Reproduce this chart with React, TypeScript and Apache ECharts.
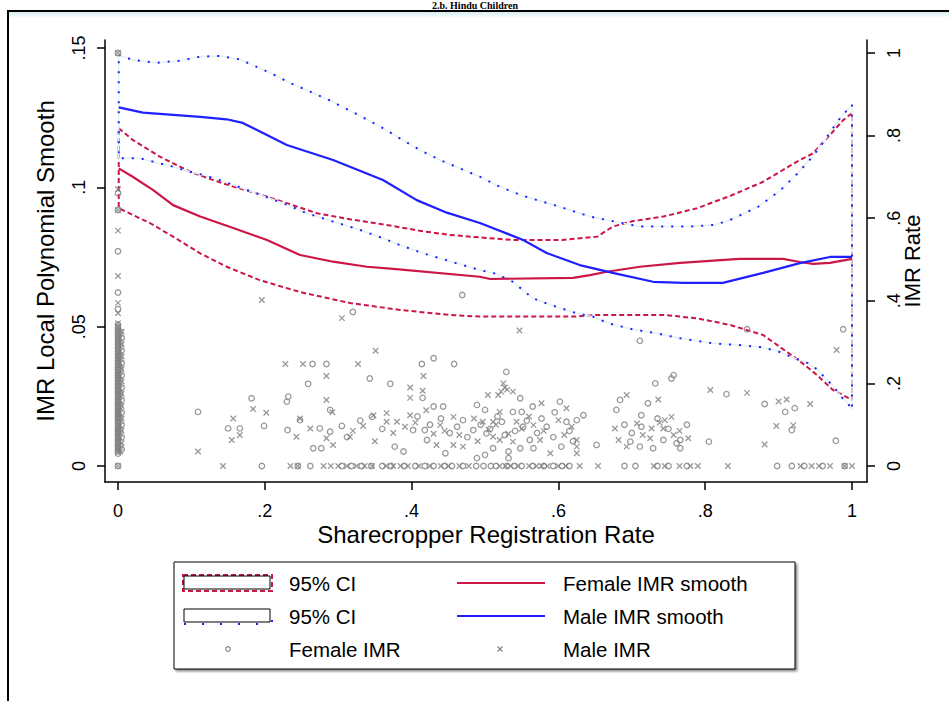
import React, { useEffect, useRef } from "react";
import * as echarts from "echarts";

// ---------- tick values ----------
const xTicks = [0, 0.2, 0.4, 0.6, 0.8, 1];
const leftTicks = [0, 0.05, 0.1, 0.15];
const rightTicks = [0, 0.2, 0.4, 0.6, 0.8, 1];

// ---------- local polynomial smooths (left axis) ----------
const femaleSmooth = [
  [0.001, 0.1068], [0.02, 0.1038], [0.048, 0.099], [0.075, 0.0936], [0.112, 0.0895],
  [0.157, 0.0854], [0.203, 0.0811], [0.248, 0.0757], [0.293, 0.0733], [0.339, 0.0715],
  [0.375, 0.0707], [0.493, 0.0679], [0.507, 0.0671], [0.62, 0.0675], [0.643, 0.0685],
  [0.666, 0.0697], [0.711, 0.0715], [0.766, 0.0729], [0.811, 0.0737], [0.847, 0.0743],
  [0.906, 0.0743], [0.929, 0.0732], [0.947, 0.0725], [0.97, 0.0729], [1.0, 0.0743],
];
const maleSmooth = [
  [0.001, 0.1287], [0.034, 0.1268], [0.112, 0.1253], [0.148, 0.1244], [0.17, 0.1231],
  [0.23, 0.1152], [0.293, 0.1098], [0.361, 0.1026], [0.407, 0.0954], [0.448, 0.0909],
  [0.493, 0.0872], [0.552, 0.0811], [0.584, 0.0764], [0.629, 0.0721], [0.674, 0.0693],
  [0.729, 0.0661], [0.77, 0.0657], [0.824, 0.0657], [0.879, 0.0693], [0.929, 0.0728],
  [0.97, 0.075], [1.0, 0.075],
];
const femaleUpper = [
  [0.001, 0.1212], [0.02, 0.117], [0.057, 0.111], [0.098, 0.1056], [0.143, 0.1014],
  [0.189, 0.0978], [0.23, 0.0943], [0.271, 0.0907], [0.316, 0.0885], [0.366, 0.0865],
  [0.411, 0.0844], [0.452, 0.0829], [0.493, 0.082], [0.538, 0.0811], [0.606, 0.0811],
  [0.653, 0.0823], [0.674, 0.0859], [0.702, 0.0879], [0.743, 0.0895], [0.789, 0.0925],
  [0.834, 0.0969], [0.879, 0.102], [0.925, 0.1092], [0.947, 0.1122], [0.97, 0.1188],
  [0.988, 0.1241], [1.0, 0.1266],
];
const femaleLower = [
  [0.001, 0.0925], [0.02, 0.0901], [0.044, 0.0871], [0.075, 0.0823], [0.112, 0.0763],
  [0.148, 0.0715], [0.193, 0.0667], [0.248, 0.0624], [0.316, 0.0585], [0.384, 0.056],
  [0.452, 0.0542], [0.493, 0.0536], [0.62, 0.0536], [0.653, 0.0542], [0.743, 0.0542],
  [0.789, 0.053], [0.834, 0.0506], [0.879, 0.047], [0.911, 0.041], [0.932, 0.037],
  [0.952, 0.0327], [0.974, 0.0273], [1.0, 0.0237],
];
const maleUpper = [
  [0.001, 0.1475], [0.02, 0.1457], [0.053, 0.1447], [0.084, 0.1454], [0.112, 0.1469],
  [0.139, 0.1471], [0.166, 0.1459], [0.207, 0.1411], [0.234, 0.1375], [0.262, 0.1343],
  [0.289, 0.1311], [0.316, 0.1275], [0.343, 0.1238], [0.361, 0.1212], [0.394, 0.116],
  [0.411, 0.1134], [0.441, 0.1095], [0.493, 0.1038], [0.52, 0.1002], [0.552, 0.0969],
  [0.602, 0.093], [0.643, 0.0895], [0.688, 0.0871], [0.711, 0.0859], [0.779, 0.0859],
  [0.811, 0.0865], [0.831, 0.0879], [0.872, 0.093], [0.902, 0.0988], [0.925, 0.1048],
  [0.947, 0.1112], [0.96, 0.1159], [0.984, 0.1249], [1.0, 0.1296],
];
const maleLower = [
  [0.001, 0.1104], [0.03, 0.1104], [0.053, 0.1088], [0.075, 0.1074], [0.098, 0.1056],
  [0.121, 0.1041], [0.148, 0.1017], [0.189, 0.0978], [0.225, 0.0943], [0.257, 0.0907],
  [0.293, 0.0877], [0.33, 0.0847], [0.361, 0.0817], [0.384, 0.0793], [0.416, 0.0763],
  [0.439, 0.0745], [0.462, 0.0727], [0.493, 0.0703], [0.516, 0.0689], [0.538, 0.0661],
  [0.565, 0.0602], [0.589, 0.0578], [0.625, 0.0548], [0.647, 0.0536], [0.668, 0.0512],
  [0.702, 0.049], [0.734, 0.0476], [0.766, 0.0458], [0.811, 0.044], [0.845, 0.0434],
  [0.875, 0.0427], [0.898, 0.0413], [0.911, 0.0398], [0.94, 0.0369], [0.952, 0.0348],
  [0.967, 0.0306], [0.974, 0.0288], [0.986, 0.0247], [0.993, 0.0231], [1.0, 0.0201],
];

// ---------- observed IMR (right axis) ----------
// districts with registration rate 0 (dense column)
const femaleAtZeroRate = [
  0, 0.03, 0.036, 0.042, 0.048, 0.054, 0.06, 0.066, 0.072, 0.078, 0.084, 0.09, 0.096,
  0.102, 0.108, 0.114, 0.12, 0.126, 0.132, 0.138, 0.144, 0.15, 0.156, 0.162, 0.168,
  0.174, 0.18, 0.186, 0.192, 0.198, 0.205, 0.212, 0.219, 0.226, 0.233, 0.24, 0.247,
  0.254, 0.262, 0.27, 0.278, 0.286, 0.294, 0.302, 0.31, 0.318, 0.326, 0.334, 0.342,
  0.38, 0.42, 0.52, 0.62, 0.66, 1.0,
];
const maleAtZeroRate = [
  0, 0.033, 0.039, 0.045, 0.051, 0.057, 0.063, 0.069, 0.075, 0.081, 0.087, 0.093,
  0.099, 0.105, 0.111, 0.117, 0.123, 0.129, 0.135, 0.141, 0.147, 0.153, 0.159, 0.165,
  0.171, 0.177, 0.183, 0.189, 0.195, 0.202, 0.209, 0.216, 0.223, 0.23, 0.237, 0.244,
  0.251, 0.258, 0.266, 0.274, 0.282, 0.29, 0.298, 0.306, 0.314, 0.322, 0.33, 0.338,
  0.346, 0.37, 0.395, 0.46, 0.57, 0.62, 0.67, 1.0,
];
// districts with registration rate just above 0
const femaleNearZeroRate = [
  [0.005, 0.04], [0.005, 0.07], [0.005, 0.1], [0.005, 0.13], [0.005, 0.16],
  [0.005, 0.19], [0.005, 0.22], [0.005, 0.25], [0.005, 0.28], [0.005, 0.31],
  [0.003, 0.05], [0.003, 0.085], [0.003, 0.115], [0.003, 0.145], [0.003, 0.175],
  [0.003, 0.205], [0.003, 0.235], [0.003, 0.265], [0.003, 0.295], [0.003, 0.325],
];
const maleNearZeroRate = [
  [0.005, 0.055], [0.005, 0.085], [0.005, 0.115], [0.005, 0.145], [0.005, 0.175],
  [0.005, 0.205], [0.005, 0.235], [0.005, 0.265], [0.005, 0.295], [0.005, 0.325],
  [0.003, 0.035], [0.003, 0.068], [0.003, 0.098], [0.003, 0.128], [0.003, 0.158],
  [0.003, 0.188], [0.003, 0.218], [0.003, 0.248], [0.003, 0.278], [0.003, 0.31],
];
// districts with IMR 0
const femaleZeroIMRRates = [
  0.196, 0.245, 0.262, 0.305, 0.318, 0.332, 0.345, 0.36, 0.372, 0.39, 0.405, 0.418,
  0.43, 0.445, 0.455, 0.47, 0.488, 0.498, 0.508, 0.515, 0.53, 0.54, 0.55, 0.565, 0.58,
  0.593, 0.605, 0.615, 0.69, 0.705, 0.735, 0.75, 0.775, 0.898, 0.918, 0.935, 0.96, 0.99,
];
const maleZeroIMRRates = [
  0.143, 0.235, 0.245, 0.28, 0.29, 0.3, 0.312, 0.325, 0.336, 0.346, 0.365, 0.375,
  0.385, 0.395, 0.41, 0.425, 0.44, 0.45, 0.465, 0.478, 0.52, 0.528, 0.535, 0.545, 0.56,
  0.57, 0.577, 0.585, 0.6, 0.61, 0.629, 0.654, 0.73, 0.745, 0.765, 0.78, 0.79, 0.831,
  0.93, 0.945, 0.955, 0.97, 0.99, 1.0,
];
const femaleOther = [
  [0.109, 0.131], [0.15, 0.091], [0.166, 0.091], [0.182, 0.164], [0.199, 0.097],
  [0.23, 0.156], [0.232, 0.168], [0.231, 0.087], [0.248, 0.111], [0.259, 0.199],
  [0.265, 0.247], [0.284, 0.247], [0.266, 0.043], [0.277, 0.043], [0.275, 0.091],
  [0.289, 0.083], [0.289, 0.136], [0.305, 0.097], [0.343, 0.212], [0.346, 0.119],
  [0.371, 0.199], [0.377, 0.047], [0.389, 0.035], [0.402, 0.087], [0.414, 0.247],
  [0.43, 0.261], [0.458, 0.247], [0.415, 0.165], [0.43, 0.144], [0.443, 0.144],
  [0.47, 0.111], [0.418, 0.087], [0.421, 0.063], [0.446, 0.031], [0.484, 0.087],
  [0.489, 0.148], [0.489, 0.019], [0.529, 0.228], [0.548, 0.164], [0.5, 0.136],
  [0.538, 0.131], [0.55, 0.131], [0.565, 0.144], [0.602, 0.156], [0.523, 0.107],
  [0.552, 0.095], [0.577, 0.115], [0.584, 0.095], [0.611, 0.107], [0.625, 0.111],
  [0.634, 0.123], [0.502, 0.079], [0.561, 0.063], [0.604, 0.047], [0.532, 0.035],
  [0.532, 0.019], [0.511, 0.043], [0.5, 0.027], [0.548, 0.043], [0.566, 0.043],
  [0.652, 0.051], [0.679, 0.136], [0.684, 0.16], [0.698, 0.059], [0.713, 0.123],
  [0.713, 0.095], [0.711, 0.047], [0.722, 0.152], [0.732, 0.2], [0.754, 0.212],
  [0.757, 0.22], [0.729, 0.043], [0.743, 0.063], [0.761, 0.055], [0.766, 0.063],
  [0.766, 0.043], [0.829, 0.174], [0.805, 0.059], [0.881, 0.15], [0.909, 0.131],
  [0.922, 0.14], [0.918, 0.087], [0.978, 0.061], [0.711, 0.303], [0.857, 0.331],
  [0.988, 0.331], [0.32, 0.373], [0.469, 0.414],
  [0.452, 0.08], [0.462, 0.095], [0.476, 0.07], [0.494, 0.1], [0.507, 0.09],
  [0.517, 0.12], [0.527, 0.075], [0.541, 0.085], [0.557, 0.11], [0.571, 0.08],
  [0.593, 0.07], [0.615, 0.085], [0.62, 0.06], [0.44, 0.115], [0.425, 0.1],
  [0.408, 0.12], [0.36, 0.09], [0.33, 0.11], [0.312, 0.07], [0.7, 0.08],
  [0.735, 0.115], [0.75, 0.09], [0.775, 0.1], [0.69, 0.1], [0.595, 0.13],
];
const maleOther = [
  [0.228, 0.247], [0.252, 0.247], [0.284, 0.218], [0.327, 0.247], [0.351, 0.279],
  [0.416, 0.218], [0.398, 0.19], [0.398, 0.165], [0.415, 0.182], [0.109, 0.035],
  [0.157, 0.115], [0.166, 0.075], [0.155, 0.063], [0.184, 0.138], [0.202, 0.129],
  [0.243, 0.071], [0.248, 0.115], [0.293, 0.051], [0.284, 0.16], [0.292, 0.13],
  [0.262, 0.091], [0.284, 0.067], [0.316, 0.071], [0.334, 0.097], [0.348, 0.123],
  [0.366, 0.128], [0.366, 0.107], [0.38, 0.107], [0.391, 0.095], [0.398, 0.123],
  [0.42, 0.135], [0.457, 0.119], [0.439, 0.099], [0.434, 0.051], [0.457, 0.051],
  [0.47, 0.047], [0.525, 0.2], [0.527, 0.19], [0.522, 0.18], [0.53, 0.185],
  [0.504, 0.172], [0.518, 0.172], [0.538, 0.18], [0.52, 0.131], [0.577, 0.152],
  [0.611, 0.14], [0.497, 0.107], [0.511, 0.107], [0.543, 0.107], [0.566, 0.099],
  [0.6, 0.111], [0.511, 0.071], [0.52, 0.063], [0.538, 0.059], [0.575, 0.063],
  [0.625, 0.063], [0.625, 0.047], [0.625, 0.031], [0.589, 0.031], [0.677, 0.091],
  [0.693, 0.172], [0.682, 0.063], [0.693, 0.047], [0.707, 0.103], [0.736, 0.161],
  [0.727, 0.091], [0.725, 0.067], [0.743, 0.091], [0.745, 0.111], [0.754, 0.119],
  [0.757, 0.075], [0.777, 0.067], [0.807, 0.184], [0.857, 0.177], [0.9, 0.156],
  [0.911, 0.161], [0.943, 0.15], [0.897, 0.097], [0.92, 0.099], [0.881, 0.052],
  [0.979, 0.281], [0.547, 0.328], [0.196, 0.402], [0.305, 0.358],
  [0.445, 0.085], [0.465, 0.075], [0.485, 0.115], [0.49, 0.06], [0.505, 0.088],
  [0.515, 0.1], [0.532, 0.078], [0.55, 0.09], [0.56, 0.12], [0.58, 0.085],
  [0.608, 0.075], [0.618, 0.095], [0.43, 0.078], [0.405, 0.105], [0.375, 0.08],
  [0.35, 0.06], [0.32, 0.085], [0.715, 0.075], [0.738, 0.105], [0.765, 0.085],
];

// ---------- labels ----------
const titleText = "2.b. Hindu Children";
const xTitle = "Sharecropper Registration Rate";
const leftTitle = "IMR Local Polynomial Smooth";
const rightTitle = "IMR Rate";
const legendLabels = ["95% CI", "Female IMR smooth", "95% CI", "Male IMR smooth", "Female IMR", "Male IMR"];

const RED = "#cc1646";
const BLUE = "#1f1fff";
const GRAY = "#808080";
const FONT = "'Liberation Sans', Arial, sans-serif";

const fmt = (v: number) => (v === 0 ? "0" : v === 1 ? "1" : String(v).replace(/^0/, ""));
const closeLoop = (up: number[][], low: number[][]) => [...up, ...low.slice().reverse(), up[0]];

export default function App() {
  const ref = useRef<HTMLDivElement>(null);
  useEffect(() => {
    if (!ref.current) return;
    const chart = echarts.init(ref.current, undefined, { renderer: "svg" });

    const femalePts = [
      ...femaleAtZeroRate.map((v) => [0, v]),
      ...femaleNearZeroRate,
      ...femaleZeroIMRRates.map((x) => [x, 0]),
      ...femaleOther,
    ];
    const malePts = [
      ...maleAtZeroRate.map((v) => [0, v]),
      ...maleNearZeroRate,
      ...maleZeroIMRRates.map((x) => [x, 0]),
      ...maleOther,
    ];

    const axisBase = {
      type: "value" as const,
      splitLine: { show: false },
      nameMoveOverlap: false,
      axisLine: { show: true, onZero: false, lineStyle: { color: "#000", width: 1.5 } },
      axisTick: { show: true, length: 8, lineStyle: { color: "#000", width: 1.5 } },
    };

    const legendY = [583, 616, 649];
    const lgText = (x: number, y: number, t: string) => ({
      type: "text", x, y,
      style: { text: t, fill: "#000", font: `20.5px ${FONT}`, textVerticalAlign: "middle", textAlign: "left" },
    });

    const option: any = {
      animation: false,
      backgroundColor: "#fff",
      grid: { left: 105, right: 82, top: 40, bottom: 219 },
      xAxis: {
        ...axisBase,
        min: -0.01771,
        max: 1.02044,
        name: xTitle,
        nameLocation: "middle",
        nameGap: 40,
        nameTextStyle: { color: "#000", fontSize: 24, fontFamily: FONT },
        axisTick: { ...axisBase.axisTick, customValues: xTicks },
        axisLabel: { customValues: xTicks, formatter: fmt, color: "#000", fontSize: 18, fontFamily: FONT, margin: 20 },
      },
      yAxis: [
        {
          ...axisBase,
          position: "left",
          min: -0.00574,
          max: 0.15285,
          name: leftTitle,
          nameLocation: "middle",
          nameRotate: 90,
          nameGap: 48,
          nameTextStyle: { color: "#000", fontSize: 24, fontFamily: FONT },
          axisTick: { ...axisBase.axisTick, customValues: leftTicks },
          axisLabel: { customValues: leftTicks, formatter: fmt, rotate: 90, color: "#000", fontSize: 18, fontFamily: FONT, margin: 17 },
        },
        {
          ...axisBase,
          position: "right",
          min: -0.03874,
          max: 1.03148,
          name: rightTitle,
          nameLocation: "middle",
          nameRotate: 90,
          nameGap: 34,
          nameTextStyle: { color: "#000", fontSize: 22, fontFamily: FONT },
          axisTick: { ...axisBase.axisTick, customValues: rightTicks },
          axisLabel: { customValues: rightTicks, formatter: fmt, rotate: 90, color: "#000", fontSize: 18, fontFamily: FONT, margin: 18 },
        },
      ],
      series: [
        {
          type: "line", yAxisIndex: 0, symbol: "none", silent: true, z: 2,
          data: closeLoop(femaleUpper, femaleLower),
          lineStyle: { color: RED, width: 2, type: [5, 3] },
        },
        {
          type: "line", yAxisIndex: 0, symbol: "none", silent: true, z: 2,
          data: closeLoop(maleUpper, maleLower),
          lineStyle: { color: "#e2f1f3", width: 1.5 },
        },
        {
          type: "line", yAxisIndex: 0, symbol: "none", silent: true, z: 3,
          data: closeLoop(maleUpper, maleLower),
          lineStyle: { color: BLUE, width: 2, type: [2, 8] },
        },
        {
          type: "line", yAxisIndex: 0, symbol: "none", silent: true, z: 4,
          data: femaleSmooth, lineStyle: { color: RED, width: 2.2 },
        },
        {
          type: "line", yAxisIndex: 0, symbol: "none", silent: true, z: 4,
          data: maleSmooth, lineStyle: { color: BLUE, width: 2.2 },
        },
        {
          type: "scatter", yAxisIndex: 1, silent: true, z: 5,
          data: femalePts, symbol: "circle", symbolSize: 5.5,
          itemStyle: { color: "rgba(0,0,0,0)", borderColor: GRAY, borderWidth: 1.3 },
        },
        {
          type: "scatter", yAxisIndex: 1, silent: true, z: 5,
          data: malePts, symbol: "path://M0 0L10 10M10 0L0 10", symbolSize: 5.5,
          itemStyle: { color: "rgba(0,0,0,0)", borderColor: GRAY, borderWidth: 1.3 },
        },
      ],
      graphic: [
        {
          type: "rect", z: -1, shape: { x: 9, y: 12, width: 945, height: 6 },
          style: { fill: new echarts.graphic.LinearGradient(0, 0, 0, 1, [
            { offset: 0, color: "#d6ecee" }, { offset: 1, color: "#ffffff" },
          ]) },
        },
        {
          type: "rect", shape: { x: 8, y: 11, width: 960, height: 720 },
          style: { fill: "none", stroke: "#000", lineWidth: 2 },
        },
        {
          type: "text", x: 475, y: 5,
          style: { text: titleText, fill: "#000", font: `bold 10px 'Liberation Serif', serif`, textAlign: "center", textVerticalAlign: "middle" },
        },
        // legend frame
        {
          type: "rect", shape: { x: 174, y: 562, width: 621, height: 107 },
          style: { fill: "#fff", stroke: "#000", lineWidth: 1, shadowColor: "rgba(0,0,0,0.45)", shadowOffsetX: 2, shadowOffsetY: 2, shadowBlur: 2 },
        },
        // row 1: red CI
        {
          type: "rect", shape: { x: 183, y: legendY[0] - 8, width: 89, height: 16 },
          style: { fill: "none", stroke: RED, lineWidth: 2, lineDash: [5, 3] },
        },
        {
          type: "rect", shape: { x: 184, y: legendY[0] - 7, width: 86, height: 13 },
          style: { fill: "none", stroke: "#000", lineWidth: 1 },
        },
        lgText(289, legendY[0], legendLabels[0]),
        { type: "line", shape: { x1: 457, y1: legendY[0], x2: 545, y2: legendY[0] }, style: { stroke: RED, lineWidth: 2 } },
        lgText(563, legendY[0], legendLabels[1]),
        // row 2: blue CI
        {
          type: "rect", shape: { x: 184, y: legendY[1] - 7, width: 86, height: 13 },
          style: { fill: "none", stroke: "#000", lineWidth: 1 },
        },
        {
          type: "polyline", shape: { points: [[184, legendY[1] + 8], [272, legendY[1] + 8], [272, legendY[1] - 8]] },
          style: { fill: "none", stroke: BLUE, lineWidth: 2, lineDash: [2, 16] },
        },
        lgText(289, legendY[1], legendLabels[2]),
        { type: "line", shape: { x1: 457, y1: legendY[1], x2: 545, y2: legendY[1] }, style: { stroke: BLUE, lineWidth: 2 } },
        lgText(563, legendY[1], legendLabels[3]),
        // row 3: markers
        { type: "circle", shape: { cx: 228, cy: legendY[2], r: 2.3 }, style: { fill: "none", stroke: GRAY, lineWidth: 1.1 } },
        lgText(289, legendY[2], legendLabels[4]),
        { type: "line", shape: { x1: 497.5, y1: legendY[2] - 2.5, x2: 502.5, y2: legendY[2] + 2.5 }, style: { stroke: GRAY, lineWidth: 1.1 } },
        { type: "line", shape: { x1: 502.5, y1: legendY[2] - 2.5, x2: 497.5, y2: legendY[2] + 2.5 }, style: { stroke: GRAY, lineWidth: 1.1 } },
        lgText(563, legendY[2], legendLabels[5]),
      ],
    };

    chart.setOption(option);
    return () => chart.dispose();
  }, []);

  return (
    <div
      ref={ref}
      style={{ position: "fixed", left: 0, top: 0, width: 949, height: 701, background: "#fff" }}
    />
  );
}
